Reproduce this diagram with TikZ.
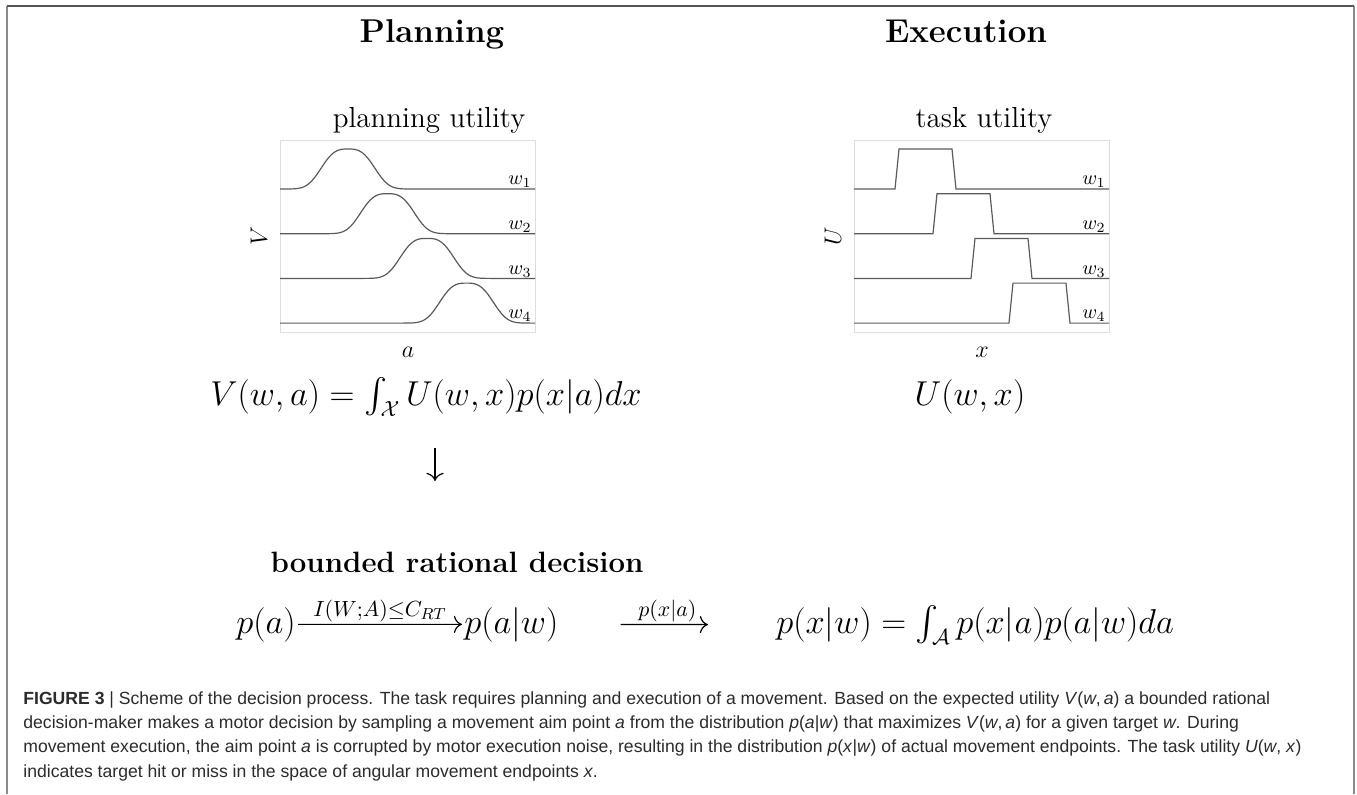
\documentclass[tikz,border=0pt]{standalone}
\usepackage{amsmath}
\usepackage{fontspec}
\newfontfamily\capfont{Liberation Sans}
\usetikzlibrary{arrows.meta, positioning, calc}
\definecolor{curvegray}{HTML}{5A5A5A}
\definecolor{boxgray}{HTML}{DDDDDD}
\definecolor{framegray}{HTML}{8A8A8A}
\definecolor{frametop}{HTML}{555555}
\definecolor{captext}{HTML}{2B2B2B}

\begin{document}
\begin{tikzpicture}[
    x=0.5pt, y=-0.5pt,
    title/.style={font=\fontsize{16.5}{20}\selectfont\bfseries, anchor=base},
    heading/.style={font=\fontsize{14.7}{18}\selectfont\bfseries, anchor=base},
    subtitle/.style={font=\fontsize{14.5}{17}\selectfont, anchor=base},
    formula/.style={font=\fontsize{16}{19}\selectfont, anchor=base, inner sep=1pt},
    axislabel/.style={font=\fontsize{11.5}{14}\selectfont},
    wlabel/.style={font=\fontsize{10}{12}\selectfont, anchor=south east, inner sep=0.5pt},
    plotbox/.style={draw=boxgray, line width=0.5pt, minimum width=127.5pt, minimum height=96pt},
    curve/.style={draw=curvegray, line width=0.6pt},
    cmarrow/.style={-{Computer Modern Rightarrow[scale=1.4]}, line width=0.6pt},
    caption/.style={font=\capfont\fontsize{8.8}{12.2}\selectfont, text=captext, align=left, inner sep=0pt},
]
\useasboundingbox (0,0) rectangle (1357,794);
\draw[framegray, line width=1pt] (7,794) -- (7,6) (1354,6) -- (1354,794);
\draw[frametop, line width=0.7pt] (7,6) -- (1354,6);

% headings
\node[title] (plan) at (432,42) {Planning};
\node[title] (exec) at (966,42) {Execution};
\node[subtitle] (planutil) at (429,127) {planning utility};
\node[subtitle] (taskutil) at (984,127) {task utility};

% planning utility plot
\node[plotbox] (vbox) at (407.5,236) {};
\foreach \i/\j in {0/1, 1/2, 2/3, 3/4} {
    \pgfmathsetmacro\yb{189+44.7*\i}
    \pgfmathsetmacro\cc{348+39.5*\i}
    \draw[curve] plot[domain=280:535, samples=160]
        (\x, {\yb-40*exp(-min((abs(\x-\cc)/31)*(abs(\x-\cc)/31)*(abs(\x-\cc)/31),40))});
    \node[wlabel] at (533,\yb) {$w_\j$};
}
\node[axislabel, rotate=90] (vlab) at (259,236) {$V$};
\node[axislabel, anchor=base] (alab) at (408,357) {$a$};

% task utility plot
\node[plotbox] (ubox) at (981.5,236) {};
\foreach \i/\j in {0/1, 1/2, 2/3, 3/4} {
    \pgfmathsetmacro\yb{189+44.7*\i}
    \pgfmathsetmacro\xs{895+38*\i}
    \draw[curve] (854,\yb) -- (\xs,\yb) -- ++(4,-40) -- ++(53,0) -- ++(4,40) -- (1109,\yb);
    \node[wlabel] at (1107,\yb) {$w_\j$};
}
\node[axislabel, rotate=90] (ulab) at (833,236) {$U$};
\node[axislabel, anchor=base] (xlab) at (982,357) {$x$};

% utilities
\node[formula] (vform) at (426,405) {$V(w,a) = \int_{\mathcal{X}} U(w,x)p(x|a)dx$};
\node[formula] (uform) at (970,405) {$U(w,x)$};
\coordinate (dtop) at (435,448);
\coordinate (dbot) at (435,481);
\draw[cmarrow] (dtop) -- (dbot);

% decision
\node[heading] (brd) at (457,572) {bounded rational decision};
\node[formula, anchor=base west] (pa) at (234,633) {$p(a)$};
\node[formula, anchor=base west] (paw) at (462,633) {$p(a|w)$};
\node[formula, anchor=base west] (pxw) at (774,633) {$p(x|w) = \int_{\mathcal{A}} p(x|a)p(a|w)da$};
\draw[cmarrow] (pa) -- node[above, formula, anchor=south] {$\scriptstyle I(W;A)\leq C_{RT}$} (paw);
\draw[cmarrow, shorten <=30pt, shorten >=33pt] (paw) -- node[above, formula, anchor=south] {$\scriptstyle p(x|a)$} (pxw);

% caption
\node[caption, anchor=north west] (cap) at (23,691) {%
{\bfseries FIGURE 3} | Scheme of the decision process. The task requires planning and execution of a movement. Based on the expected utility \textit{V}(\textit{w},\,\textit{a}) a bounded rational\\
decision-maker makes a motor decision by sampling a movement aim point \textit{a} from the distribution \textit{p}(\textit{a}|\textit{w}) that maximizes \textit{V}(\textit{w},\,\textit{a}) for a given target \textit{w}. During\\
movement execution, the aim point \textit{a} is corrupted by motor execution noise, resulting in the distribution \textit{p}(\textit{x}|\textit{w}) of actual movement endpoints. The task utility \textit{U}(\textit{w},\ \textit{x})\\
indicates target hit or miss in the space of angular movement endpoints \textit{x}.};
\end{tikzpicture}
\end{document}
